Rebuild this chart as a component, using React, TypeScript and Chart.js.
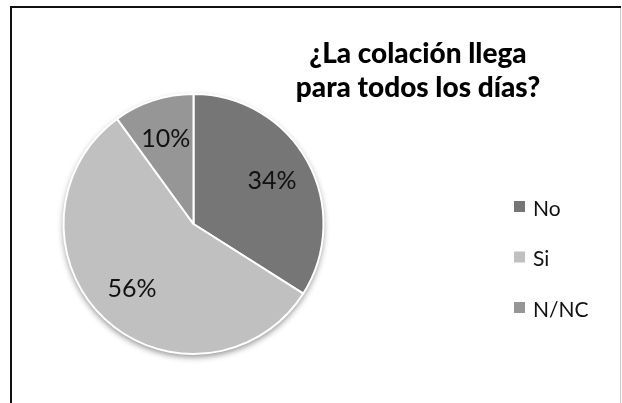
import React, { useEffect, useRef } from "react";
import { Chart, registerables } from "chart.js";

Chart.register(...registerables);

const categories = ["No", "Si", "N/NC"];
const percentages = [34, 56, 10];
const sliceColors = ["#767676", "#c0c0c0", "#969696"];
const titleLines = ["¿La colación llega", "para todos los días?"];

const FONT = "Lato, 'Open Sans', sans-serif";

const framePlugin = {
  id: "frame",
  beforeDraw(chart: any) {
    const ctx = chart.ctx;
    ctx.save();
    ctx.fillStyle = "#ffffff";
    ctx.fillRect(0, 0, chart.width, chart.height);
    ctx.fillStyle = "#111111";
    ctx.fillRect(10, 6, 2, chart.height - 6);
    ctx.fillRect(10, 6, 611, 2);
    ctx.fillStyle = "#c8c8c8";
    ctx.fillRect(620, 8, 1, chart.height - 8);
    ctx.restore();
  },
};

const shadowPlugin = {
  id: "pieShadow",
  beforeDatasetsDraw(chart: any) {
    const arc = chart.getDatasetMeta(0).data[0];
    if (!arc) return;
    const { x, y, outerRadius } = arc.getProps(["x", "y", "outerRadius"], true);
    const ctx = chart.ctx;
    ctx.save();
    ctx.shadowColor = "rgba(0,0,0,0.45)";
    ctx.shadowBlur = 6;
    ctx.shadowOffsetY = 3;
    ctx.fillStyle = "#ffffff";
    ctx.beginPath();
    ctx.arc(x, y, outerRadius, 0, Math.PI * 2);
    ctx.fill();
    ctx.restore();
  },
};

const labelPlugin = {
  id: "sliceLabels",
  afterDatasetsDraw(chart: any) {
    const ctx = chart.ctx;
    const meta = chart.getDatasetMeta(0);
    ctx.save();
    ctx.font = `25px ${FONT}`;
    ctx.fillStyle = "#111111";
    ctx.textAlign = "center";
    ctx.textBaseline = "middle";
    meta.data.forEach((arc: any, i: number) => {
      const { x, y, startAngle, endAngle, outerRadius } = arc.getProps(
        ["x", "y", "startAngle", "endAngle", "outerRadius"],
        true
      );
      const mid = (startAngle + endAngle) / 2;
      const r = outerRadius * 0.69;
      ctx.fillText(`${percentages[i]}%`, x + Math.cos(mid) * r, y + Math.sin(mid) * r);
    });
    ctx.restore();
  },
};

const titlePlugin = {
  id: "customTitle",
  afterDraw(chart: any) {
    const ctx = chart.ctx;
    ctx.save();
    ctx.font = `900 28px ${FONT}`;
    ctx.fillStyle = "#000000";
    ctx.textAlign = "center";
    ctx.textBaseline = "alphabetic";
    titleLines.forEach((line, i) => {
      ctx.fillText(line, 418, 63 + i * 34);
    });
    ctx.restore();
  },
};

const legendPlugin = {
  id: "customLegend",
  afterDraw(chart: any) {
    const ctx = chart.ctx;
    const labels: string[] = chart.data.labels;
    const colors: string[] = chart.data.datasets[0].backgroundColor;
    ctx.save();
    ctx.font = `21px ${FONT}`;
    ctx.textAlign = "left";
    ctx.textBaseline = "alphabetic";
    labels.forEach((label, i) => {
      const cy = 206.5 + i * 50.5;
      ctx.fillStyle = colors[i];
      ctx.fillRect(514, cy - 5.5, 11, 11);
      ctx.fillStyle = "#111111";
      ctx.fillText(label, 533, cy + 9);
    });
    ctx.restore();
  },
};

export default function App() {
  const canvasRef = useRef<HTMLCanvasElement | null>(null);

  useEffect(() => {
    if (!canvasRef.current) return;
    const chart = new Chart(canvasRef.current, {
      type: "pie",
      data: {
        labels: categories,
        datasets: [
          {
            data: percentages,
            backgroundColor: sliceColors,
            borderColor: "#ffffff",
            borderWidth: 2,
          },
        ],
      },
      options: {
        responsive: false,
        animation: false,
        devicePixelRatio: 1,
        layout: { padding: { left: 62, right: 297, top: 93, bottom: 48 } },
        plugins: {
          legend: { display: false },
          title: { display: false },
          tooltip: { enabled: false },
        },
      },
      plugins: [framePlugin, shadowPlugin, labelPlugin, titlePlugin, legendPlugin],
    });
    return () => chart.destroy();
  }, []);

  return (
    <div style={{ position: "absolute", left: 0, top: 0, width: 622, height: 403 }}>
      <canvas ref={canvasRef} width={622} height={403} style={{ display: "block" }} />
    </div>
  );
}
